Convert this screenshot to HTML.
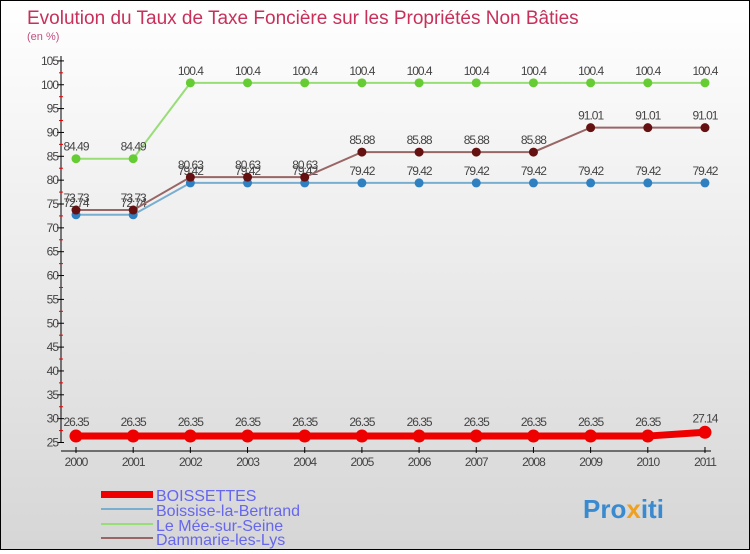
<!DOCTYPE html>
<html><head><meta charset="utf-8"><style>
body{margin:0;width:750px;height:550px;overflow:hidden;font-family:"Liberation Sans",sans-serif}
#wrap{position:relative;width:748px;height:548px;border:1px solid #000;background:linear-gradient(#ffffff,#d6d6d6)}
</style></head><body>
<div id="wrap">
<svg id="chart" width="748" height="548">
<text x="26" y="23" font-size="19" fill="#c8305a">Evolution du Taux de Taxe Foncière sur les Propriétés Non Bâties</text>
<text x="26" y="39" font-size="11" fill="#c05080">(en %)</text>
<g id="axes"></g><g id="series"></g>
<g>
<rect x="100" y="490" width="52" height="7" fill="#e00"/>
<text x="155" y="500" font-size="16" fill="#6666ee">BOISSETTES</text>
<rect x="100" y="507" width="52" height="2" fill="#7aaed0"/>
<text x="155" y="515" font-size="16" fill="#6666ee">Boissise-la-Bertrand</text>
<rect x="100" y="522" width="52" height="2" fill="#99dd77"/>
<text x="155" y="530" font-size="16" fill="#6666ee">Le Mée-sur-Seine</text>
<rect x="100" y="536" width="52" height="2" fill="#996666"/>
<text x="155" y="544" font-size="16" fill="#6666ee">Dammarie-les-Lys</text>
</g>
<text x="582" y="517" font-size="26" font-weight="bold" fill="#3a8ad0">Pro<tspan fill="#f0a020">x</tspan>iti</text>
</svg></div>
<script>
const years=["2000","2001","2002","2003","2004","2005","2006","2007","2008","2009","2010","2011"];
const yTicks=[25,30,35,40,45,50,55,60,65,70,75,80,85,90,95,100,105];
const boissettes=[26.35,26.35,26.35,26.35,26.35,26.35,26.35,26.35,26.35,26.35,26.35,27.14];
const boissise=[72.74,72.74,79.42,79.42,79.42,79.42,79.42,79.42,79.42,79.42,79.42,79.42];
const mee=[84.49,84.49,100.4,100.4,100.4,100.4,100.4,100.4,100.4,100.4,100.4,100.4];
const dammarie=[73.73,73.73,80.63,80.63,80.63,85.88,85.88,85.88,85.88,91.01,91.01,91.01];
const NS="http://www.w3.org/2000/svg";
const X=i=>75+i*57.18, Y=v=>441.5-(v-25)*4.77;
function el(t,a,p){const e=document.createElementNS(NS,t);for(const k in a)e.setAttribute(k,a[k]);p.appendChild(e);return e;}
const ax=document.getElementById('axes'),sg=document.getElementById('series');
let l=el('line',{x1:60,y1:55,x2:60,y2:442,stroke:'#000'},ax);

l=el('line',{x1:60,y1:450,x2:710,y2:450,stroke:'#000'},ax);

yTicks.forEach((v,i)=>{el('line',{x1:56,x2:63,y1:Y(v),y2:Y(v),stroke:'#000'},ax);
 if(i<yTicks.length-1)el('line',{x1:58,x2:62,y1:Y(v+2.5),y2:Y(v+2.5),stroke:'#e00'},ax);
 const t=el('text',{x:57,y:Y(v)+4,'text-anchor':'end','font-size':12,fill:'#444','letter-spacing':'-1'},ax);t.textContent=v;
 });
years.forEach((y,i)=>{el('line',{x1:X(i),x2:X(i),y1:446,y2:452,stroke:'#000'},ax);
 const t=el('text',{x:X(i),y:465,'text-anchor':'middle','font-size':12,fill:'#444','letter-spacing':'-1'},ax);t.textContent=y;
 });
function series(vals,name,line,dot,w,r,dy){
 const g=el('g',{},sg);
 el('polyline',{points:vals.map((v,i)=>X(i)+','+Y(v)).join(' '),fill:'none',stroke:line,'stroke-width':w},g);
 vals.forEach((v,i)=>{const c=el('circle',{cx:X(i),cy:Y(v),r:r,fill:dot},g);
  
  const t=el('text',{x:X(i),y:Y(v)+dy,'text-anchor':'middle','font-size':12,fill:'#444','letter-spacing':'-1'},g);t.textContent=v;
  });
}
series(mee,'le-mee-sur-seine','#99dd77','#66cc33',2,4.5,-8);
series(boissise,'boissise-la-bertrand','#7aaed0','#2f80c0',2,4.5,-8);
series(dammarie,'dammarie-les-lys','#996666','#661111',2,4.5,-8);
series(boissettes,'boissettes','#ee0000','#ee0000',7,6.5,-10);
</script></body></html>
